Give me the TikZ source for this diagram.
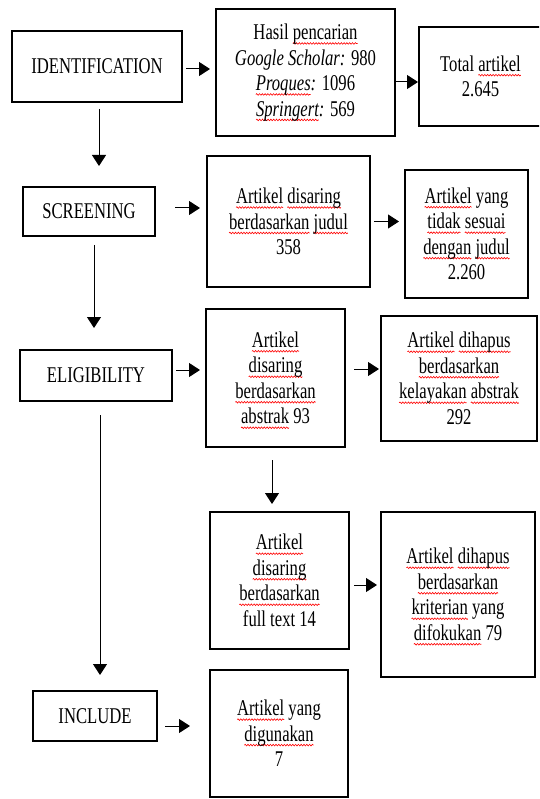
\documentclass[tikz,border=0pt]{standalone}
\usepackage{fontspec}
\setmainfont{Liberation Serif}[FakeStretch=0.74]
\usetikzlibrary{arrows.meta,decorations.pathmorphing}
\newsavebox\sqbox
\newcommand\sq[1]{\sbox\sqbox{#1}\leavevmode\rlap{\tikz[overlay,baseline=0pt]\draw[red, line width=0.6pt, decorate, decoration={snake, amplitude=0.8pt, segment length=2.8pt}] (0pt,-3.8pt) -- (\wd\sqbox,-3.8pt);}\usebox\sqbox}
\begin{document}
\begin{tikzpicture}[x=1pt,y=-1pt,
  box/.style={draw, line width=2pt, inner sep=0pt, align=center,
    font=\fontsize{22.5}{25.5}\selectfont},
  arr/.style={-{Triangle[length=11pt,width=14pt]}, line width=1pt}]
\path[use as bounding box] (0,0) rectangle (539,799);
\clip (0,0) rectangle (539,799);

\node[box, minimum width=170pt, minimum height=71pt] (ident) at (97,66.5) {IDENTIFICATION};
\node[box, minimum width=179pt, minimum height=127pt] (hasil) at (305.5,72.5)
  {Hasil \sq{pencarian}\\ \textit{Google Scholar:} 980\\ \textit{\sq{Proques}:} 1096\\ \textit{\sq{Springert}:} 569};
\node[box, minimum width=123pt, minimum height=99pt] (total) at (480.5,76.5)
  {Total \sq{artikel}\\ 2.645};

\node[box, minimum width=132pt, minimum height=49pt] (screening) at (89,211.5) {SCREENING};
\node[box, minimum width=163pt, minimum height=131pt] (judul) at (288.5,221.5)
  {\sq{Artikel} \sq{disaring}\\ \sq{berdasarkan} \sq{judul}\\ 358};
\node[box, minimum width=123pt, minimum height=128pt] (tidak) at (466.5,234)
  {\sq{Artikel} yang\\ \sq{tidak} \sq{sesuai}\\ \sq{dengan} \sq{judul}\\ 2.260};

\node[box, minimum width=152pt, minimum height=51pt] (elig) at (96,375.5) {ELIGIBILITY};
\node[box, minimum width=139pt, minimum height=138pt] (abstrak) at (275.5,378)
  {\sq{Artikel}\\ \sq{disaring}\\ \sq{berdasarkan}\\ \sq{abstrak} 93};
\node[box, minimum width=156pt, minimum height=125pt] (kelayakan) at (459,378.5)
  {\sq{Artikel} \sq{dihapus}\\ \sq{berdasarkan}\\ \sq{kelayakan} \sq{abstrak}\\ 292};

\node[box, minimum width=139pt, minimum height=137pt] (fulltext) at (279.5,580.5)
  {\sq{Artikel}\\ \sq{disaring}\\ \sq{berdasarkan}\\ full text 14};
\node[box, minimum width=154pt, minimum height=165pt] (kriterian) at (458,594.5)
  {\sq{Artikel} \sq{dihapus}\\ \sq{berdasarkan}\\ \sq{kriterian} yang\\ \sq{difokukan} 79};

\node[box, minimum width=124pt, minimum height=50pt] (include) at (95,716) {INCLUDE};
\node[box, minimum width=138pt, minimum height=127pt] (digunakan) at (279,733.5)
  {\sq{Artikel} yang\\ \sq{digunakan}\\ 7};

\draw[arr, shorten <=3pt, shorten >=5pt] ([yshift=-2.5pt]ident.east) -- ([yshift=-2.5pt]ident.east -| hasil.west);
\draw[arr] ([yshift=-5.5pt]total.west -| hasil.east) -- ([yshift=-5.5pt]total.west);
\draw[arr, shorten <=6pt, shorten >=20pt] ([xshift=2pt]ident.south) -- ([xshift=2pt]ident.south |- screening.north);

\draw[arr, shorten <=19pt, shorten >=6pt] ([yshift=3.5pt]screening.east) -- ([yshift=3.5pt]screening.east -| judul.west);
\draw[arr, shorten <=3pt, shorten >=5pt] (judul.east) -- (judul.east -| tidak.west);
\draw[arr, shorten <=8pt, shorten >=21pt] ([xshift=5pt]screening.south) -- ([xshift=5pt]screening.south |- elig.north);

\draw[arr, shorten <=3pt, shorten >=5pt] ([yshift=5.5pt]elig.east) -- ([yshift=5.5pt]elig.east -| abstrak.west);
\draw[arr, shorten <=8pt, shorten >=1pt] ([yshift=9pt]abstrak.east) -- ([yshift=9pt]abstrak.east -| kelayakan.west);
\draw[arr, shorten <=13pt, shorten >=15pt] ([xshift=4pt]elig.south) -- ([xshift=4pt]elig.south |- include.north);
\draw[arr, shorten <=12pt, shorten >=7pt] ([xshift=-3.5pt]abstrak.south) -- ([xshift=-3.5pt]abstrak.south |- fulltext.north);

\draw[arr, shorten <=4pt, shorten >=3pt] ([yshift=-4.5pt]fulltext.east) -- ([yshift=-4.5pt]fulltext.east -| kriterian.west);
\draw[arr, shorten <=7pt, shorten >=19pt] ([yshift=-10pt]include.east) -- ([yshift=-10pt]include.east -| digunakan.west);
\end{tikzpicture}
\end{document}
